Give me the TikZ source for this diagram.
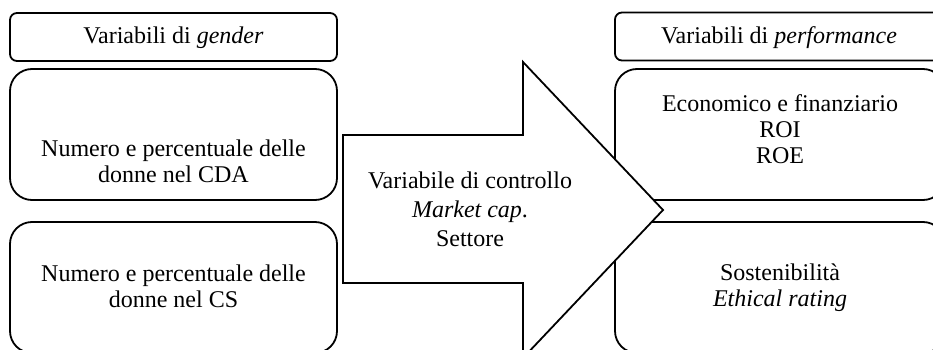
\documentclass[tikz,border=0pt]{standalone}
\usepackage{fontspec}
\setmainfont{Liberation Serif}
\begin{document}
\begin{tikzpicture}[x=1pt,y=-1pt,
  hdr/.style={draw, line width=1.8pt, rounded corners=7pt, minimum width=#1, minimum height=48pt, inner sep=0pt},
  bigbox/.style={draw, line width=1.8pt, rounded corners=22pt, minimum width=#1, minimum height=131pt, inner sep=0pt},
  txt/.style={align=center, inner sep=0pt, font=\fontsize{24}{26}\selectfont}]
\useasboundingbox (0,0) rectangle (933,350);
\clip (0,0) rectangle (933,350);
% left column
\node[hdr=327pt] (lh) at (173.5,37) {};
\node[bigbox=327pt] (l1) at (173.5,134.5) {};
\node[bigbox=327pt] (l2) at (173.5,287.5) {};
% right column
\node[hdr=330pt] (rh) at (780,36.5) {};
\node[bigbox=330pt] (r1) at (780,134.5) {};
\node[bigbox=330pt] (r2) at (780,287.5) {};
% arrow
\draw[line width=1.8pt, fill=white, line join=miter]
  (343,135) -- (523,135) -- (523,62) -- (663,210) -- (523,358) -- (523,283) -- (343,283) -- cycle;
% texts
\node[txt] (tlh) at (173.5,38) {Variabili di \textit{gender}};
\node[txt] (tl1) at (173.5,161) {Numero e percentuale delle\\donne nel CDA};
\node[txt] (tl2) at (173.5,286) {Numero e percentuale delle\\donne nel CS};
\node[txt] (trh) at (779,38) {Variabili di \textit{performance}};
\node[txt] (tr1) at (780,129) {Economico e finanziario\\ROI\\ROE};
\node[txt] (tr2) at (780,288) {Sostenibilità\\\textit{Ethical rating}};
\node[txt, font=\fontsize{24}{29}\selectfont] (ta) at (470,209) {Variabile di controllo\\\textit{Market cap}.\\Settore};
\end{tikzpicture}
\end{document}
